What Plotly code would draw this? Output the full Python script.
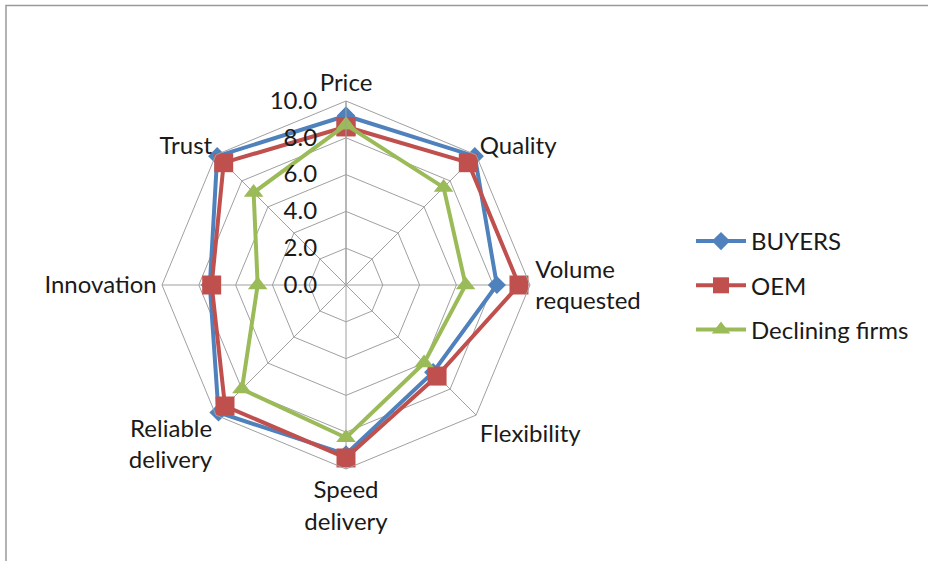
import plotly.graph_objects as go

# Supplier-selection criteria scored on a 0-10 scale
criteria = ["Price", "Quality", "Volume<br>requested", "Flexibility",
            "Speed<br>delivery", "Reliable<br>delivery", "Innovation", "Trust"]

buyers = [9.2, 9.9, 8.2, 6.7, 9.2, 9.8, 7.4, 9.9]
oem = [8.6, 9.4, 9.4, 7.0, 9.4, 9.3, 7.3, 9.4]
declining = [8.7, 7.5, 6.5, 6.0, 8.3, 8.0, 4.8, 7.1]

series_names = ["BUYERS", "OEM", "Declining firms"]
series_values = [buyers, oem, declining]
series_colors = ["#4F81BD", "#C0504D", "#9BBB59"]
series_symbols = ["diamond", "square", "triangle-up"]
series_sizes = [14, 19, 17]

FONT = "Lato, Carlito, Calibri, sans-serif"
FS = 24
W, H = 928, 561
cx, cy, R = 346, 285, 184

fig = go.Figure()
for i, (name, vals) in enumerate(zip(series_names, series_values)):
    fig.add_trace(go.Scatterpolar(
        r=vals + vals[:1],
        theta=criteria + criteria[:1],
        mode="lines+markers",
        name=name,
        legendgroup=name,
        line=dict(color=series_colors[i], width=4),
        marker=dict(symbol=series_symbols[i], size=series_sizes[i],
                    color=series_colors[i]),
        cliponaxis=False,
    ))

fig.update_layout(
    width=W, height=H,
    margin=dict(l=0, r=0, t=0, b=0),
    paper_bgcolor="white",
    font=dict(family=FONT, size=FS, color="#1a1a1a"),
    polar=dict(
        domain=dict(x=[(cx - R) / W, (cx + R) / W],
                    y=[(H - cy - R) / H, (H - cy + R) / H]),
        gridshape="linear",
        bgcolor="white",
        angularaxis=dict(
            direction="clockwise", rotation=90,
            linecolor="#a0a0a0", linewidth=1,
            gridcolor="#a0a0a0", gridwidth=1,
            ticks="", tickfont=dict(family=FONT, size=FS),
        ),
        radialaxis=dict(
            range=[0, 10], dtick=2, tickformat=".1f",
            angle=90, tickangle=90, side="counterclockwise",
            showline=True, linecolor="#a0a0a0", linewidth=1,
            gridcolor="#a0a0a0", gridwidth=1,
            ticks="outside", ticklen=20, tickcolor="rgba(0,0,0,0)",
            tickfont=dict(family=FONT, size=FS),
        ),
    ),
    legend=dict(
        x=691 / W, y=(H - 219) / H, xanchor="left", yanchor="top",
        traceorder="grouped", tracegroupgap=10, itemwidth=50,
        font=dict(family=FONT, size=FS),
        bgcolor="rgba(0,0,0,0)",
    ),
    shapes=[dict(type="rect", xref="paper", yref="paper",
                 x0=6 / W, x1=1.01, y0=-0.01, y1=(H - 5.5) / H,
                 line=dict(color="#9a9a9a", width=1.5))],
)

fig.write_html("out.html")
